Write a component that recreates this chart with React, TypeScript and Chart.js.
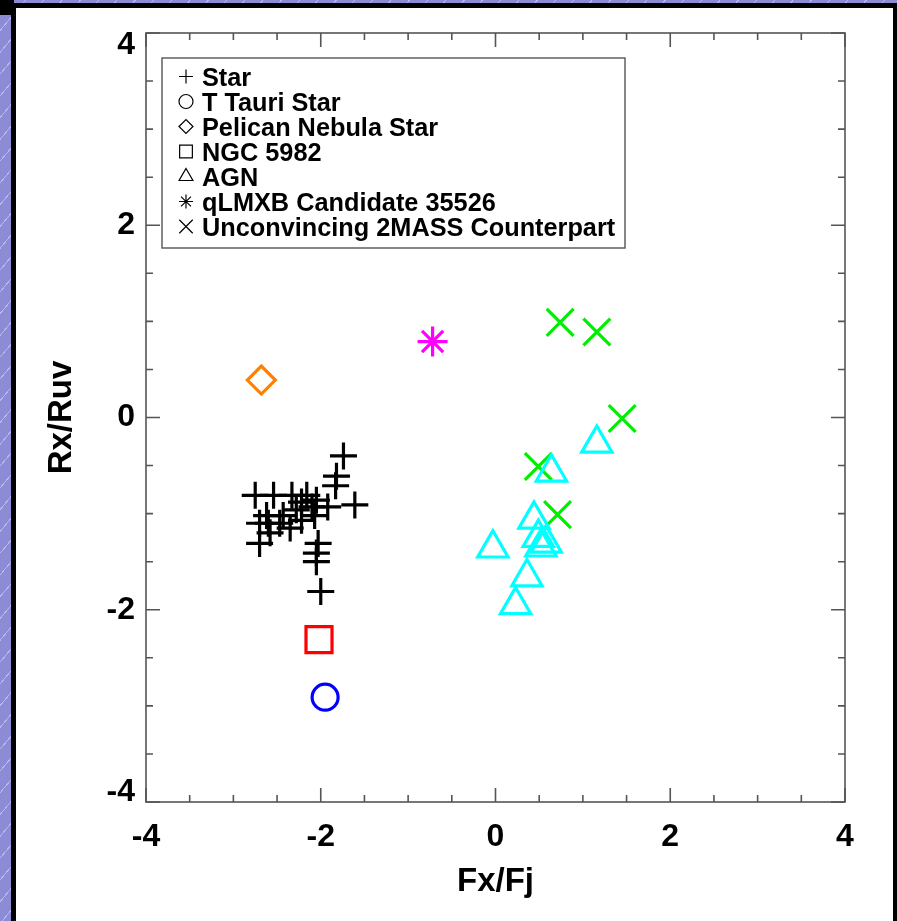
import React, { useEffect, useRef } from 'react';
import { Chart, registerables } from 'chart.js';
import { drawPoint } from 'chart.js/helpers';

Chart.register(...registerables);

// ---- data ----
const starX = [-1.74, -1.82, -1.83, -1.61, -2.75, -2.54, -2.33, -2.16, -2.62, -2.70, -2.70, -2.47, -2.35, -2.28, -2.22, -2.10, -2.05, -2.07, -2.03, -2.05, -2.05, -2.00, -2.58, -2.43, -2.22, -1.92, -2.60];
const starY = [-0.40, -0.61, -0.71, -0.91, -0.81, -0.81, -0.81, -0.81, -1.02, -1.10, -1.31, -1.10, -1.15, -0.96, -0.88, -0.93, -0.86, -1.02, -1.31, -1.41, -1.50, -1.81, -1.20, -1.02, -1.07, -0.93, -1.10];
const tTauriX = [-1.95];
const tTauriY = [-2.91];
const pelicanX = [-2.68];
const pelicanY = [0.39];
const ngcX = [-2.02];
const ngcY = [-2.31];
const agnX = [1.16, 0.64, 0.44, -0.03, 0.49, 0.52, 0.58, 0.36, 0.23];
const agnY = [-0.27, -0.57, -1.06, -1.36, -1.25, -1.35, -1.31, -1.66, -1.95];
const qlmxbX = [-0.72];
const qlmxbY = [0.79];
const unconvX = [0.74, 1.16, 1.45, 0.49, 0.71];
const unconvY = [0.99, 0.89, -0.01, -0.51, -1.01];

const legendLabels = ['Star', 'T Tauri Star', 'Pelican Nebula Star', 'NGC 5982', 'AGN', 'qLMXB Candidate 35526', 'Unconvincing 2MASS Counterpart'];
const legendStyles = ['cross', 'circle', 'rectRot', 'rect', 'triangle', 'star', 'crossRot'];
const legendRadii = [7, 7, 7, 9, 8, 7, 9.5];

const axisMin = -4;
const axisMax = 4;
const majorStep = 2;
const minorStep = 0.5;

const FONT = "'Liberation Sans', Arial, Helvetica, sans-serif";

const pts = (xs: number[], ys: number[]) => xs.map((x, i) => ({ x, y: ys[i] }));

const framePlugin = {
  id: 'idlFrame',
  beforeDraw(chart: any) {
    const ys = chart.scales.y;
    const items = ys.getLabelItems();
    items.forEach((it: any, i: number) => {
      const v = ys.ticks[i] && ys.ticks[i].value;
      if (v === axisMax) it.options.translation[1] += 12;
      if (v === axisMin) it.options.translation[1] -= 10;
    });
  },
  afterDatasetsDraw(chart: any) {
    const { ctx, chartArea } = chart;
    const { left, right, top, bottom } = chartArea;
    const xs = chart.scales.x;
    const ys = chart.scales.y;
    ctx.save();
    ctx.strokeStyle = '#555';
    ctx.lineWidth = 1.6;
    ctx.strokeRect(left, top, right - left, bottom - top);
    for (let v = axisMin; v <= axisMax + 1e-9; v += minorStep) {
      const isMajor = Math.abs(v / majorStep - Math.round(v / majorStep)) < 1e-6;
      const len = isMajor ? 14 : 7;
      const px = xs.getPixelForValue(v);
      const py = ys.getPixelForValue(v);
      ctx.beginPath();
      ctx.moveTo(px, bottom); ctx.lineTo(px, bottom - len);
      ctx.moveTo(px, top); ctx.lineTo(px, top + len);
      ctx.moveTo(left, py); ctx.lineTo(left + len, py);
      ctx.moveTo(right, py); ctx.lineTo(right - len, py);
      ctx.stroke();
    }
    // legend
    const bx = left + 16, by = top + 25, bw = 463, bh = 190;
    ctx.fillStyle = '#fff';
    ctx.fillRect(bx, by, bw, bh);
    ctx.strokeStyle = '#555';
    ctx.lineWidth = 1.4;
    ctx.strokeRect(bx, by, bw, bh);
    ctx.font = `bold 25.3px ${FONT}`;
    ctx.textBaseline = 'alphabetic';
    ctx.textAlign = 'left';
    legendLabels.forEach((lab, i) => {
      const cy = by + 18.5 + i * 25;
      ctx.strokeStyle = '#000';
      ctx.fillStyle = 'rgba(0,0,0,0)';
      ctx.lineWidth = 1.2;
      drawPoint(ctx, { pointStyle: legendStyles[i], radius: legendRadii[i], rotation: 0, borderWidth: 1.2 } as any, bx + 24, cy);
      ctx.fillStyle = '#000';
      ctx.fillText(lab, bx + 40, cy + 9);
    });
    ctx.restore();
  },
};

export default function App() {
  const ref = useRef<HTMLCanvasElement | null>(null);
  useEffect(() => {
    if (!ref.current) return;
    const clear = 'rgba(0,0,0,0)';
    const bw = 3.2;
    const chart = new Chart(ref.current, {
      type: 'scatter',
      data: {
        datasets: [
          { label: legendLabels[0], data: pts(starX, starY), pointStyle: 'cross', pointRadius: 13.5, borderColor: '#000', backgroundColor: clear, borderWidth: bw },
          { label: legendLabels[1], data: pts(tTauriX, tTauriY), pointStyle: 'circle', pointRadius: 13, borderColor: '#0000ff', backgroundColor: clear, borderWidth: bw },
          { label: legendLabels[2], data: pts(pelicanX, pelicanY), pointStyle: 'rectRot', pointRadius: 14, borderColor: '#ff8000', backgroundColor: clear, borderWidth: bw },
          { label: legendLabels[3], data: pts(ngcX, ngcY), pointStyle: 'rect', pointRadius: 18.4, borderColor: '#ff0000', backgroundColor: clear, borderWidth: bw },
          { label: legendLabels[4], data: pts(agnX, agnY), pointStyle: 'triangle', pointRadius: 17.5, borderColor: '#00ffff', backgroundColor: clear, borderWidth: bw },
          { label: legendLabels[5], data: pts(qlmxbX, qlmxbY), pointStyle: 'star', pointRadius: 15, borderColor: '#ff00ff', backgroundColor: clear, borderWidth: bw },
          { label: legendLabels[6], data: pts(unconvX, unconvY), pointStyle: 'crossRot', pointRadius: 19, borderColor: '#00ee00', backgroundColor: clear, borderWidth: bw },
        ],
      },
      options: {
        animation: false,
        responsive: false,
        devicePixelRatio: 1,
        layout: { padding: { left: 0, right: 52, top: 33, bottom: 0 } },
        plugins: { legend: { display: false }, tooltip: { enabled: false } },
        scales: {
          x: {
            type: 'linear',
            min: axisMin,
            max: axisMax,
            grid: { display: false, drawTicks: false },
            border: { display: false },
            ticks: { stepSize: majorStep, color: '#000', font: { family: FONT, size: 32, weight: 'bold' }, padding: 16 },
            title: { display: true, text: 'Fx/Fj', color: '#000', font: { family: FONT, size: 33, weight: 'bold' }, padding: { top: 0, bottom: 19 } },
            afterFit: (s: any) => { s.height = 119; },
          },
          y: {
            type: 'linear',
            min: axisMin,
            max: axisMax,
            grid: { display: false, drawTicks: false },
            border: { display: false },
            ticks: { stepSize: majorStep, color: '#000', font: { family: FONT, size: 32, weight: 'bold' }, padding: 11 },
            title: { display: true, text: 'Rx/Ruv', color: '#000', font: { family: FONT, size: 33, weight: 'bold' }, padding: { top: 42, bottom: 0 } },
            afterFit: (s: any) => { s.width = 146; },
          },
        },
      },
      plugins: [framePlugin],
    } as any);
    return () => chart.destroy();
  }, []);

  return (
    <div style={{ position: 'absolute', left: 0, top: 0, width: 897, height: 921, overflow: 'hidden',
      background: 'repeating-linear-gradient(-50deg, #8d8bd6 0px, #8d8bd6 13px, #b9b7ec 13px, #b9b7ec 14px)' }}>
      <div style={{ position: 'absolute', left: 0, top: 0, width: 14, height: 15, background: '#000' }} />
      <div style={{ position: 'absolute', left: 11, top: 3, width: 886, height: 918, boxSizing: 'border-box',
        background: '#fff', borderLeft: '5px solid #000', borderTop: '5px solid #000', borderRight: '4px solid #000' }} />
      <canvas ref={ref} width={897} height={921} style={{ position: 'absolute', left: 0, top: 0, width: 897, height: 921 }} />
    </div>
  );
}
